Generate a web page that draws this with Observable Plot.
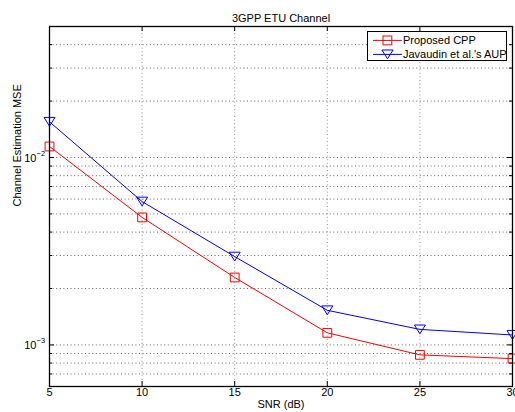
<!DOCTYPE html>
<html>
<head>
<meta charset="utf-8">
<script src="https://cdn.jsdelivr.net/npm/d3@7"></script>
<script src="https://cdn.jsdelivr.net/npm/@observablehq/plot@0.6"></script>
<style>
  html, body { margin: 0; padding: 0; background: #fff; }
  #wrap { position: relative; width: 515px; height: 412px; font-family: "Liberation Sans", Arial, sans-serif; }
  #legend { position: absolute; left: 367px; top: 31px; width: 138px; height: 28px; border: 1.3px solid #000; background: #fff; font-size: 11px; }
  .entry { position: absolute; left: 0; height: 14px; display: flex; align-items: center; white-space: nowrap; }
  .entry svg { display: block; }
</style>
</head>
<body>
<div id="wrap"></div>
<script>
// ---- data ----
const snr = [5, 10, 15, 20, 25, 30];
const proposedCPP = [0.01145, 0.00479, 0.00229, 0.00116, 0.000885, 0.000845];
const javaudinAUP = [0.0155, 0.00582, 0.00296, 0.00153, 0.00121, 0.00113];
const seriesNames = ["Proposed CPP", "Javaudin et al.'s AUP"];
const seriesColors = ["#ff0000", "#0000ff"];
const xTicks = [5, 10, 15, 20, 25, 30];
const xGrid = [10, 15, 20, 25];
const yMajor = [1e-3, 1e-2];
const yMinor = [6e-4, 7e-4, 8e-4, 9e-4, 2e-3, 3e-3, 4e-3, 5e-3, 6e-3, 7e-3, 8e-3, 9e-3, 2e-2, 3e-2, 4e-2];
const yGrid = yMajor.concat(yMinor);
const titleText = "3GPP ETU Channel";
const xLabel = "SNR (dB)";
const yLabel = "Channel Estimation MSE";

const rowsA = snr.map((s, i) => ({snr: s, mse: proposedCPP[i]}));
const rowsB = snr.map((s, i) => ({snr: s, mse: javaudinAUP[i]}));

// custom symbols (size = r*r*PI)
const squareSym = {draw(ctx, size) { const r = Math.sqrt(size / Math.PI); ctx.rect(-r, -r, 2 * r, 2 * r); }};
const triDownSym = {draw(ctx, size) { const r = Math.sqrt(size / Math.PI); ctx.moveTo(-r * 1.25, -r); ctx.lineTo(r * 1.25, -r); ctx.lineTo(0, r); ctx.closePath(); }};

const W = 515, H = 412, mL = 49, mR = 3, mT = 26, mB = 26;
const fw = W - mL - mR, fh = H - mT - mB;
const major = 5, minor = 3;

const chart = Plot.plot({
  width: W, height: H,
  marginLeft: mL, marginRight: mR, marginTop: mT, marginBottom: mB,
  x: {domain: [5, 30], axis: null},
  y: {type: "log", domain: [6e-4, 5e-2], axis: null},
  style: {fontFamily: "Liberation Sans, Arial, sans-serif", fontSize: "11px", background: "#fff", overflow: "visible"},
  marks: [
    Plot.ruleY(yGrid, {y: d => d, stroke: "#000", strokeOpacity: 0.6, strokeDasharray: "1,2.6"}),
    Plot.ruleX(xGrid, {x: d => d, stroke: "#000", strokeOpacity: 0.45, strokeDasharray: "1,2.6"}),
    // ticks (inward)
    Plot.tickX(xTicks, {x: d => d, insetTop: fh - major, stroke: "#000"}),
    Plot.tickX(xTicks, {x: d => d, insetBottom: fh - major, stroke: "#000"}),
    Plot.tickY(yMajor, {y: d => d, insetRight: fw - major, stroke: "#000"}),
    Plot.tickY(yMajor, {y: d => d, insetLeft: fw - major, stroke: "#000"}),
    Plot.tickY(yMinor, {y: d => d, insetRight: fw - minor, stroke: "#000"}),
    Plot.tickY(yMinor, {y: d => d, insetLeft: fw - minor, stroke: "#000"}),
    // series
    Plot.line(rowsA, {x: "snr", y: "mse", stroke: seriesColors[0], strokeWidth: 1}),
    Plot.line(rowsB, {x: "snr", y: "mse", stroke: seriesColors[1], strokeWidth: 1}),
    Plot.dot(rowsA, {x: "snr", y: "mse", symbol: squareSym, r: 4.4, stroke: seriesColors[0], fill: "none", strokeWidth: 1}),
    Plot.dot(rowsB, {x: "snr", y: "mse", symbol: triDownSym, r: 4.4, stroke: seriesColors[1], fill: "none", strokeWidth: 1}),
    Plot.frame({stroke: "#000", strokeWidth: 1.3}),
    // tick labels
    Plot.text(xTicks, {x: d => d, text: d => String(d), frameAnchor: "bottom", dy: 9, fill: "#000"}),
    Plot.text(yMajor, {y: d => d, text: () => "10", frameAnchor: "left", textAnchor: "end", dx: -13, dy: 1, fill: "#000"}),
    Plot.text(yMajor, {y: d => d, text: d => "\u2212" + Math.round(-Math.log10(d)), frameAnchor: "left", textAnchor: "start", dx: -13, dy: -4, fontSize: 7.5, fill: "#000"}),
    // titles
    Plot.text([titleText], {text: d => d, frameAnchor: "top", dy: -12, fill: "#000"}),
    Plot.text([xLabel], {text: d => d, frameAnchor: "bottom", dy: 21, fill: "#000"}),
    Plot.text([yLabel], {text: d => d, frameAnchor: "left", rotate: -90, dx: -32, fill: "#000"})
  ]
});

const wrap = document.getElementById("wrap");
wrap.appendChild(chart);

// legend
const legend = document.createElement("div");
legend.id = "legend";
const syms = ["square", "tri"];
seriesNames.forEach((name, i) => {
  const e = document.createElement("div");
  e.className = "entry";
  e.style.top = (1 + i * 14) + "px";
  const c = seriesColors[i];
  const marker = syms[i] === "square"
    ? `<rect x="15" y="3" width="8.8" height="8.8" fill="none" stroke="${c}"/>`
    : `<path d="M13.9,3 L25.1,3 L19.5,11.8 Z" fill="none" stroke="${c}"/>`;
  e.innerHTML = `<svg width="35" height="14"><line x1="5" x2="34" y1="7.4" y2="7.4" stroke="${c}"/>${marker}</svg><span style="margin-left:0px">${name}</span>`;
  legend.appendChild(e);
});
wrap.appendChild(legend);
</script>
</body>
</html>
